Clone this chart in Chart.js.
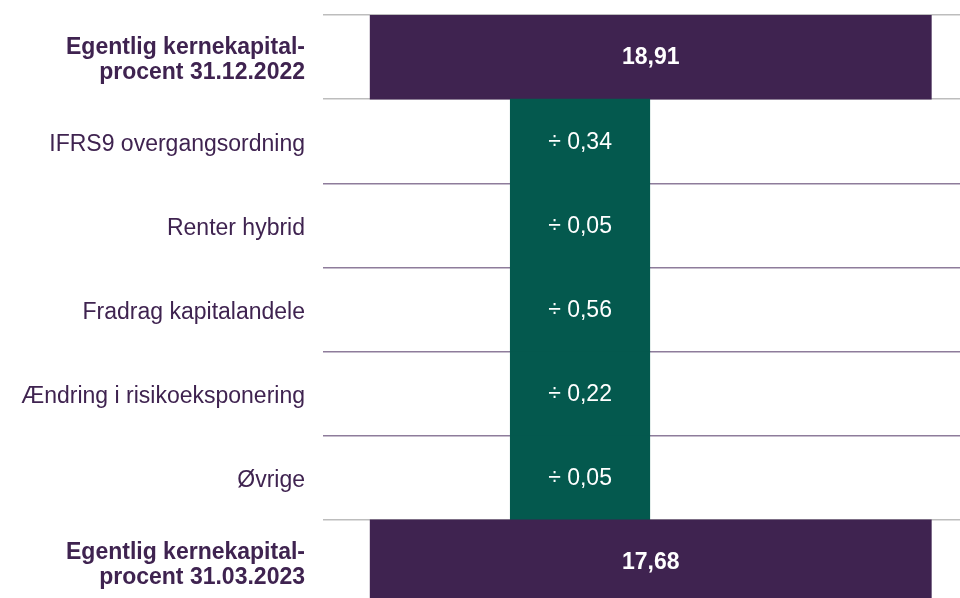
<!doctype html>
<html lang="en">

<head>
    <meta charset="utf-8">
    <title>Egentlig kernekapitalprocent</title>
    <style>
        * {
            margin: 0;
            padding: 0;
        }

        body {
            width: 960px;
            height: 598px;
            overflow: hidden;
            background: white;
        }

        .chartBox {
            width: 960px;
            height: 604px;
        }
    </style>
</head>

<body>
    <div class="chartBox">
        <canvas id="myChart"></canvas>
    </div>

    <script src="https://cdn.jsdelivr.net/npm/chart.js"></script>

    <script>
        const labels = [
            ['Egentlig kernekapital-', 'procent 31.12.2022'],
            'IFRS9 overgangsordning',
            'Renter hybrid',
            'Fradrag kapitalandele',
            'Ændring i risikoeksponering',
            'Øvrige',
            ['Egentlig kernekapital-', 'procent 31.03.2023']
        ]
        const values = [18.91, -0.34, -0.05, -0.56, -0.22, -0.05, 17.68]

        // bars are drawn as fixed-size blocks, not to scale
        const barStart = [7.4, 29.4, 29.4, 29.4, 29.4, 29.4, 7.4]
        const barEnd = [95.5, 51.3, 51.3, 51.3, 51.3, 51.3, 95.5]

        const purple = '#3f2350'
        const green = '#04594e'
        const fontFamily = 'Arial, "Liberation Sans", sans-serif'

        const isTotal = (i) => i === 0 || i === labels.length - 1

        const formatValue = (v) => {
            const txt = Math.abs(v).toFixed(2).replace('.', ',')
            return v < 0 ? '÷ ' + txt : txt
        }

        // value text inside the bars
        const barLabels = {
            id: 'barLabels',
            afterDraw(chart) {
                const ctx = chart.ctx
                const meta = chart.getDatasetMeta(0)
                ctx.save()
                ctx.fillStyle = 'white'
                ctx.textAlign = 'center'
                ctx.textBaseline = 'middle'
                meta.data.forEach((bar, i) => {
                    ctx.font = (isTotal(i) ? 'bold ' : '') + '23px ' + fontFamily
                    ctx.fillText(formatValue(values[i]), bar.x - (bar.x - bar.base) / 2, bar.y + 1)
                })
                ctx.restore()
            }
        }

        const data = {
            labels: labels,
            datasets: [{
                data: labels.map((l, i) => [barStart[i], barEnd[i]]),
                backgroundColor: labels.map((l, i) => isTotal(i) ? purple : green),
                barPercentage: 1,
                categoryPercentage: 1,
                borderWidth: 0
            }]
        }

        const config = {
            type: 'bar',
            data: data,
            plugins: [barLabels],
            options: {
                indexAxis: 'y',
                responsive: true,
                maintainAspectRatio: false,
                animation: false,
                layout: {
                    padding: { top: 15, right: 0, bottom: 0, left: 0 }
                },
                plugins: {
                    legend: { display: false },
                    tooltip: { enabled: false }
                },
                scales: {
                    x: {
                        display: false,
                        min: 0,
                        max: 100
                    },
                    y: {
                        z: 1,
                        border: { display: false },
                        grid: {
                            offset: true,
                            drawTicks: false,
                            lineWidth: 1.5,
                            color: (c) => (c.index <= 1 || c.index >= 6) ? '#bdbdbd' : '#8e7c9b'
                        },
                        ticks: {
                            padding: 18,
                            labelOffset: 3,
                            color: purple,
                            font: (c) => ({
                                family: fontFamily,
                                size: 23,
                                weight: isTotal(c.index) ? 'bold' : 'normal',
                                lineHeight: 1.09
                            })
                        },
                        afterFit(scale) {
                            scale.width = 323
                            scale.paddingTop = 0
                            scale.paddingBottom = 0
                        }
                    }
                }
            }
        }

        const myChart = new Chart(
            document.getElementById('myChart'),
            config
        )
    </script>
</body>

</html>
